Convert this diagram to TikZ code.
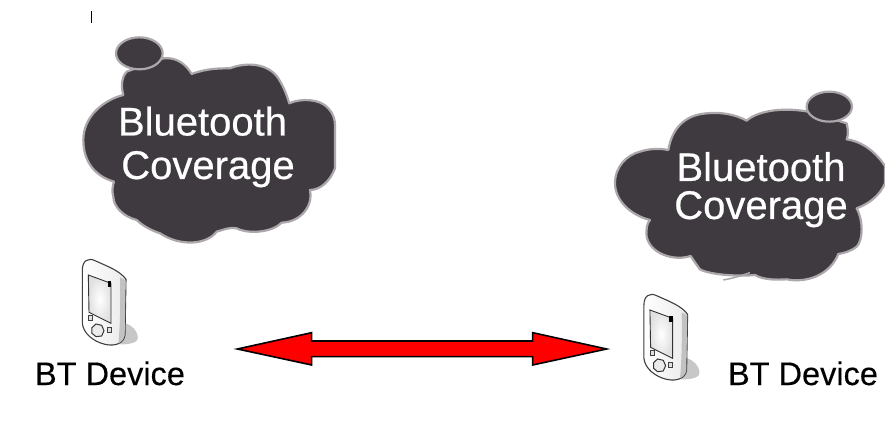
\documentclass[tikz,border=0pt]{standalone}
\usepackage{fontspec}
\setmainfont{Liberation Sans}
\newfontfamily\heavysans[FakeBold=0.5]{Liberation Sans}
\newfontfamily\midsans[FakeBold=0.25]{Liberation Sans}
\definecolor{cloudfill}{HTML}{3F3A3F}
\definecolor{cloudedge}{HTML}{ABA7AA}
\tikzset{
  cloudshape/.style={fill=cloudfill,draw=cloudedge,line width=2.2pt,line join=round},
  cloudtext/.style={text=white,anchor=base,inner sep=0pt,font=\heavysans\fontsize{40}{40}\selectfont},
  devlabel/.style={text=black,anchor=base,inner sep=0pt,font=\midsans\fontsize{32.5}{32.5}\selectfont},
  zoomed/.style={x=0.3333pt,y=-0.3333pt},
  phone/.pic={
    \fill[black!22] (290,215) .. controls (335,215) and (360,250) .. (352,270) .. controls (340,285) and (300,285) .. (280,280) -- cycle;
    \draw[black!75,line width=1.1pt,left color=white,right color=black!8,line join=round]
      (187,60) .. controls (187,32) and (205,22) .. (225,32)
      .. controls (260,48) and (300,62) .. (318,88)
      -- (315,255) .. controls (312,280) and (285,290) .. (255,283)
      .. controls (220,275) and (190,250) .. (187,220) -- cycle;
    \fill[black!24] (300,82) .. controls (308,86) and (314,88) .. (317,92) -- (314,255) .. controls (312,268) and (305,275) .. (295,280) .. controls (300,240) and (302,150) .. (300,82);
    \draw[black!80,line width=0.9pt,inner color=white,outer color=black!12]
      (205,75) -- (273,100) -- (273,220) -- (207,187) -- cycle;
    \fill[black] (263,93) rectangle (274,110);
    \draw[black!75,line width=0.9pt,fill=black!12] (206,197) rectangle (218,210);
    \draw[black!75,line width=0.9pt,fill=black!12] (261,232) rectangle (274,246);
    \draw[black!80,line width=1pt,fill=black!8] (216,233) -- (228,222) -- (245,226) -- (252,242) -- (245,258) -- (228,260) -- (216,250) -- cycle;
  }
}
\begin{document}
\begin{tikzpicture}[x=1pt,y=-1pt]
\useasboundingbox (0,0) rectangle (885,435);
\fill[white] (0,0) rectangle (885,435);
% small tick
\draw[black,line width=1pt] (91.5,11) -- (91.5,23);
% left cloud
\begin{scope}[shift={(60,0)},zoomed]
  \draw[cloudshape]
    (190,285) .. controls (180,250) and (190,225) .. (200,215)
    -- (310,175) .. controls (350,170) and (380,195) .. (395,222)
    .. controls (440,205) and (480,205) .. (510,205)
    .. controls (560,185) and (625,190) .. (655,235)
    .. controls (672,262) and (680,285) .. (688,310)
    .. controls (720,295) and (780,295) .. (805,325)
    .. controls (820,340) and (825,360) .. (825,375)
    -- (825,505)
    .. controls (810,545) and (780,570) .. (750,570)
    .. controls (760,610) and (730,665) .. (665,668)
    .. controls (640,695) and (570,705) .. (530,685)
    .. controls (510,680) and (490,690) .. (470,695)
    .. controls (440,735) and (360,740) .. (300,700)
    .. controls (270,690) and (245,675) .. (230,660)
    .. controls (190,650) and (160,620) .. (160,590)
    .. controls (155,575) and (158,555) .. (162,545)
    .. controls (110,530) and (70,490) .. (70,420)
    .. controls (70,350) and (130,300) .. (190,285) -- cycle;
  \draw[cloudshape] (238,160) ellipse [x radius=70,y radius=48];
\end{scope}
\node[cloudtext] (bl) at (202.5,135.5) {Bluetooth};
\node[cloudtext] (cl) at (208,179) {Coverage};
% right cloud
\begin{scope}[shift={(600,80)},zoomed]
  \draw[cloudshape]
    (205,210) .. controls (215,150) and (250,105) .. (320,100)
    .. controls (365,95) and (410,105) .. (440,122)
    .. controls (470,95) and (540,80) .. (625,95)
    -- (740,130) .. controls (745,150) and (745,165) .. (740,178)
    .. controls (790,185) and (830,220) .. (855,258)
    -- (855,310)
    .. controls (840,345) and (810,370) .. (770,385)
    .. controls (790,420) and (790,480) .. (770,500)
    .. controls (750,515) and (730,520) .. (715,522)
    .. controls (690,585) and (620,610) .. (560,598)
    .. controls (530,600) and (490,600) .. (465,585)
    .. controls (420,590) and (330,585) .. (300,568)
    .. controls (290,555) and (280,540) .. (272,528)
    .. controls (220,545) and (150,520) .. (140,470)
    .. controls (138,450) and (140,430) .. (150,420)
    .. controls (90,405) and (45,360) .. (45,310)
    .. controls (45,260) and (80,225) .. (120,215)
    .. controls (150,205) and (180,205) .. (205,210) -- cycle;
  \draw[cloudedge,line width=1.5pt] (370,600) .. controls (400,595) and (430,585) .. (450,578);
  \draw[cloudshape] (688,80) ellipse [x radius=68,y radius=45];
\end{scope}
\node[cloudtext] (br) at (761,181) {Bluetooth};
\node[cloudtext] (cr) at (761,219) {Coverage};
% devices
\begin{scope}[shift={(20,250)},zoomed]
  \pic (pl) at (0,0) {phone};
\end{scope}
\begin{scope}[shift={(581.6,285)},zoomed]
  \pic (pr) at (0,0) {phone};
\end{scope}
\node[devlabel] (dl) at (110,385) {BT Device};
\node[devlabel] (dr) at (803,385) {BT Device};
% double arrow
\begin{scope}[shift={(230,320)},zoomed]
  \draw[fill=red,draw=black,line width=1.6pt,line join=miter]
    (22,87) -- (245,38) -- (245,63) -- (908,63) -- (908,38) -- (1130,87)
    -- (908,135) -- (908,110) -- (245,110) -- (245,135) -- cycle;
\end{scope}
\end{tikzpicture}
\end{document}
